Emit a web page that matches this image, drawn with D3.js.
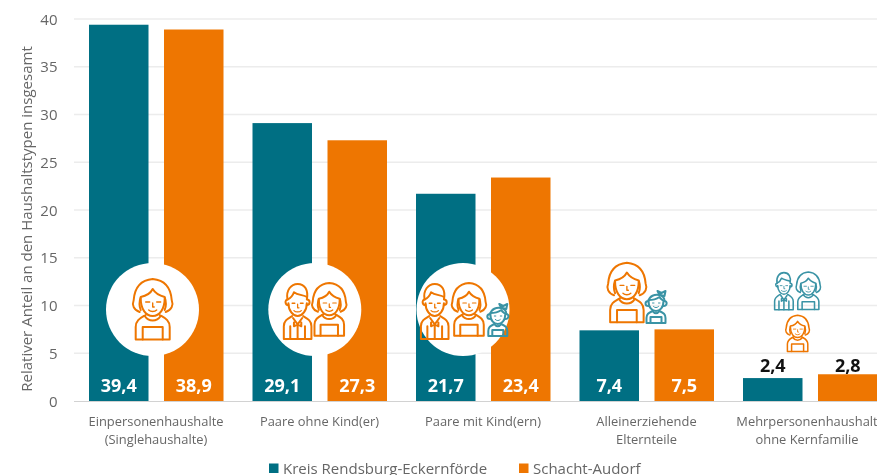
<!DOCTYPE html>
<html lang="de"><head><meta charset="utf-8">
<script src="https://cdn.jsdelivr.net/npm/d3@7"></script>
<style>
html,body{margin:0;padding:0;background:#fff;overflow:hidden}
svg{display:block;font-family:"Open Sans",sans-serif;filter:blur(.45px)}
</style></head><body>
<svg id="c" width="877" height="475"></svg>
<script>
const categories = [["Einpersonenhaushalte","(Singlehaushalte)"],["Paare ohne Kind(er)"],["Paare mit Kind(ern)"],["Alleinerziehende","Elternteile"],["Mehrpersonenhaushalt","ohne Kernfamilie"]];
const seriesNames = ["Kreis Rendsburg-Eckernförde","Schacht-Audorf"];
const kreis = [39.4,29.1,21.7,7.4,2.4];
const schacht = [38.9,27.3,23.4,7.5,2.8];
const yTicks = [0,5,10,15,20,25,30,35,40];
const yTitle = "Relativer Anteil an den Haushaltstypen insgesamt";
const TEAL="#006F83", ORANGE="#EE7601", TEAL_ICON="#3A93A5";

const svg=d3.select("#c");
const x=d3.scaleBand().domain(d3.range(5)).range([74.25,891.75]);
const y=d3.scaleLinear().domain([0,40]).range([401,19]);
const cx=i=>x(i)+x.bandwidth()/2;
const fmt=d3.formatLocale({decimal:",",thousands:".",grouping:[3],currency:["","€"]}).format(".1f");

// grid + y labels
svg.append("g").selectAll("line").data(yTicks.slice(1)).join("line")
 .attr("x1",74).attr("x2",877).attr("y1",d=>y(d)).attr("y2",d=>y(d))
 .attr("stroke","#ececec").attr("stroke-width",1.6);
svg.append("line").attr("x1",74).attr("x2",877).attr("y1",y(0)+.5).attr("y2",y(0)+.5).attr("stroke","#d2d2d2").attr("stroke-width",1);
svg.append("g").selectAll("text").data(yTicks).join("text")
 .attr("x",57.5).attr("y",d=>y(d)+5.5).attr("text-anchor","end").attr("font-size",15).attr("fill","#666").text(d=>d);
svg.append("text").attr("transform","translate(32,219) rotate(-90)").attr("text-anchor","middle")
 .attr("font-size",15).attr("fill","#666").text(yTitle);

// bars
const bw=59.5, off=[-67,8];
[kreis,schacht].forEach((vals,s)=>{
 svg.append("g").selectAll("rect").data(vals).join("rect")
  .attr("x",(d,i)=>cx(i)+off[s]).attr("width",bw).attr("y",d=>y(d)).attr("height",d=>y(0)-y(d))
  .attr("fill",s?ORANGE:TEAL);
});

// white discs
const discs=[[0,-3.5],[1,-4.7],[2,-20]];
svg.append("g").selectAll("circle").data(discs).join("circle")
 .attr("cx",d=>cx(d[0])+d[1]).attr("cy",309.5).attr("r",46.5).attr("fill","#fff");

// icons, local coordinates
function woman(g){
 g.append("path").attr("d","M8,33C2,31 0,26 2,21C3,8 10,1 21,0C32,1 39,8 40,21C42,26 40,31 34,33");
 g.append("path").attr("d","M9,31C7,26 8,21 9,18C14,17 19,14 21,10C24,15 29,17 33,18C34,21 35,26 33,31");
 g.append("path").attr("d","M9,19C9,30 14,37 21,37C28,37 33,30 33,19");
 g.append("path").attr("d","M14,23H18M25,23H29M21,24V28H22.5M17,31C19,33 23,33 25,31").attr("stroke-width",1.4);
 g.append("path").attr("d","M14,36C9,39 4,41 4,48V60.5H38V48C38,41 33,39 28,36");
 g.append("path").attr("d","M13,37C17,43 25,43 29,37M11,60.5V48H31V60.5");
}
function man(g){
 g.append("path").attr("d","M6,24C2,24 2,18 5,18C3,8 9,1 16,1C24,1 28,8 26,18C30,18 30,24 26,24");
 g.append("path").attr("d","M5,18C9,16 11,13 12,10C16,13 22,13 26,15");
 g.append("path").attr("d","M6,22C6,30 11,36 16,36C21,36 26,30 26,22");
 g.append("path").attr("d","M10,22H13M19,22H22M16,23V27H17.5M12,30C14,32 18,32 20,30").attr("stroke-width",1.4);
 g.append("path").attr("d","M10,36C5,39 1,41 1,47V61H31V47C31,41 27,39 22,36");
 g.append("path").attr("d","M8,61V47M24,61V47M11,38L16,45L21,38M12,43V47L16,45L20,47V43M16,45V61");
}
function child(g){
 g.append("path").attr("d","M3,15C-1,15 -1,10 3,10C4,5 9,3 14,4C18,5 19,8 19,10C22,10 22,15 18,15");
 g.append("path").attr("d","M14,4L12,0L16,2L20,0L19,5L15,4");
 g.append("path").attr("d","M3,9C7,9 11,8 14,6C15,8 17,9 18,10M3,10C3,17 7,20 10.5,20C14,20 18,17 18,10");
 g.append("path").attr("d","M7,12H8.5M13,12H14.5M8,15.5C9.5,17 11.5,17 13,15.5").attr("stroke-width",1);
 g.append("path").attr("d","M7,20C3,22 1,23 1,27V32H20V27C20,23 18,22 14,20M5,32V26H16V32M7,20C9,23 12,23 14,20");
}
const icons=[
 [woman,0,-24.3,279,1,ORANGE],
 [man,1,-36.6,283,.92,ORANGE],[woman,1,-8.5,283,.87,ORANGE],
 [man,2,-63,283,.92,ORANGE],[woman,2,-32.3,283,.87,ORANGE],[child,2,4.3,304,1,TEAL_ICON],
 [woman,3,-40.3,262.7,.985,ORANGE],[child,3,-1,291,1,TEAL_ICON],
 [man,4,-36,272,.62,TEAL_ICON],[woman,4,-14.7,272,.62,TEAL_ICON],[woman,4,-25,315.3,.6,ORANGE]
];
const ig=svg.append("g");
icons.forEach(([fn,c,dx,top,s,col])=>{
 const g=ig.append("g").attr("transform",`translate(${cx(c)+dx},${top}) scale(${s})`)
  .attr("fill","none").attr("stroke",col).attr("stroke-width",2/Math.max(s,.8)).attr("stroke-linejoin","round").attr("stroke-linecap","round");
 fn(g);
});

// value labels
[kreis,schacht].forEach((vals,s)=>{
 svg.append("g").selectAll("text").data(vals).join("text")
  .attr("x",(d,i)=>cx(i)+off[s]+bw/2)
  .attr("y",d=>d<5?y(0)-29:y(0)-9)
  .attr("text-anchor","middle").attr("font-size",18).attr("font-weight",700)
  .attr("fill",d=>d<5?"#111":"#fff").text(d=>fmt(d));
});

// category labels
const cl=svg.append("g").attr("font-size",12.9).attr("fill","#666").attr("text-anchor","middle");
categories.forEach((lines,i)=>lines.forEach((t,k)=>{
 cl.append("text").attr("x",cx(i)-(i===4?3:0)).attr("y",426+k*17.5).text(t);
}));

// legend
const lx=[269,519];
seriesNames.forEach((n,i)=>{
 svg.append("rect").attr("x",lx[i]).attr("y",463.5).attr("width",9.5).attr("height",9.5).attr("fill",i?ORANGE:TEAL);
 svg.append("text").attr("x",lx[i]+14).attr("y",474).attr("font-size",15).attr("fill","#666").text(n);
});
</script></body></html>
